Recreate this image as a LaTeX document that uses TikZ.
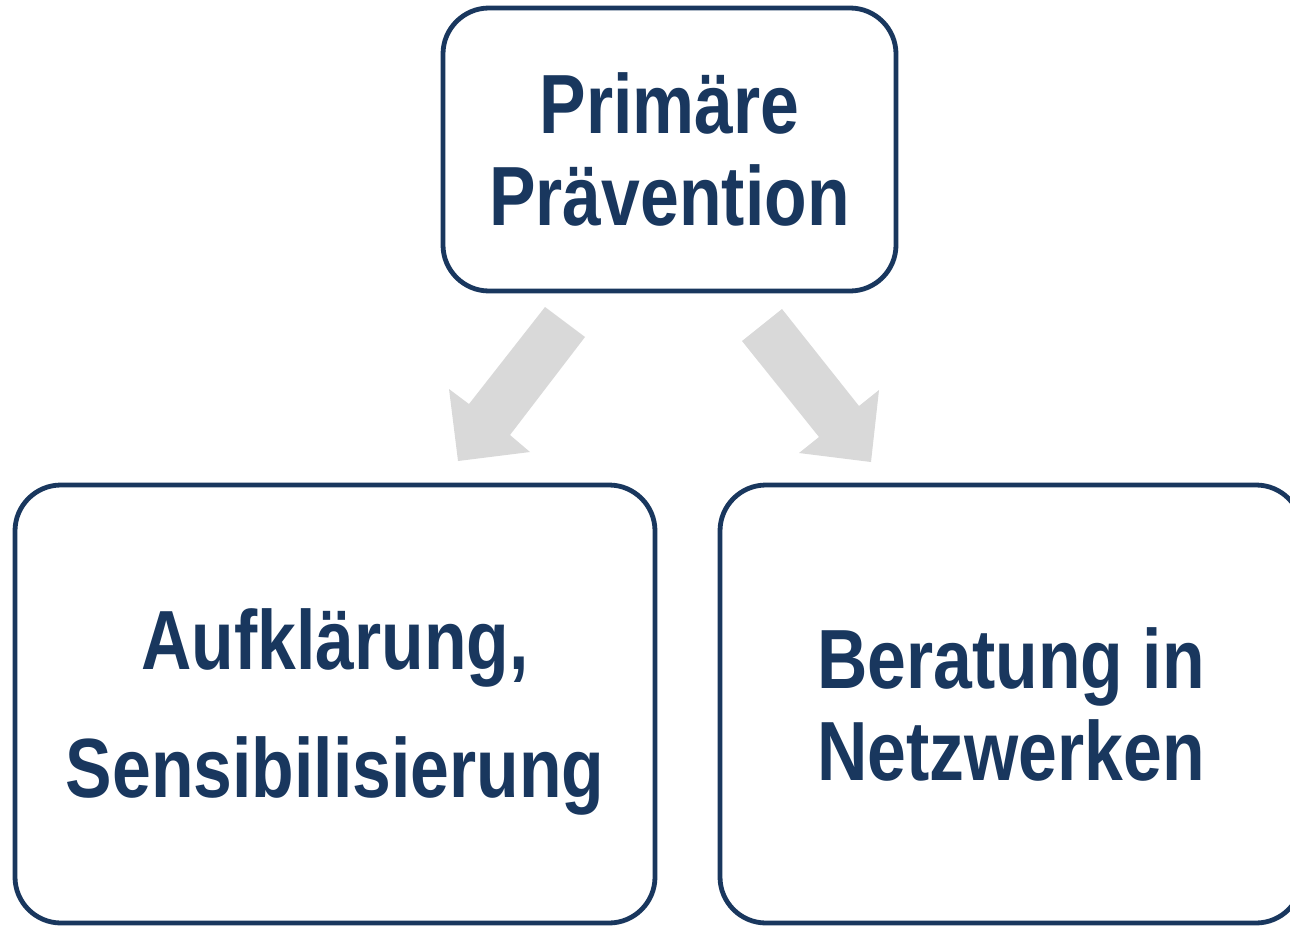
\documentclass[tikz,border=0pt]{standalone}
\usepackage{fontspec}
\setmainfont{Liberation Sans}[FakeStretch=0.83]
\definecolor{navy}{RGB}{25,55,94}
\definecolor{arrowgrey}{RGB}{217,217,217}
\begin{document}
\begin{tikzpicture}[x=1pt,y=-1pt,
  box/.style={draw=navy, line width=4.8pt, rounded corners=46pt, fill=white,
    text=navy, align=center, inner sep=0pt,
    font=\fontsize{84}{92}\selectfont\bfseries},
  blockarrow/.style={fill=arrowgrey, draw=none}]
\useasboundingbox (0,0) rectangle (1290,926);
\node[box, minimum width=453pt, minimum height=283pt] (top) at (669.5,149.5) {Primäre\\Prävention};
\node[box, minimum width=640pt, minimum height=438pt] (left) at (335,704) {\rule{0pt}{77pt}Aufklärung,\\[36pt]Sensibilisierung};
\node[box, minimum width=582pt, minimum height=438pt] (right) at (1011,704) {Beratung in\\Netzwerken};
\fill[blockarrow] (545,307) -- (585,337) -- (510,435) -- (530,452) -- (458,461) -- (449,389) -- (469,404) -- cycle;
\fill[blockarrow] (782,309) -- (742,341) -- (819,437) -- (799,453) -- (871,462) -- (879,390) -- (859,406) -- cycle;
\end{tikzpicture}
\end{document}
